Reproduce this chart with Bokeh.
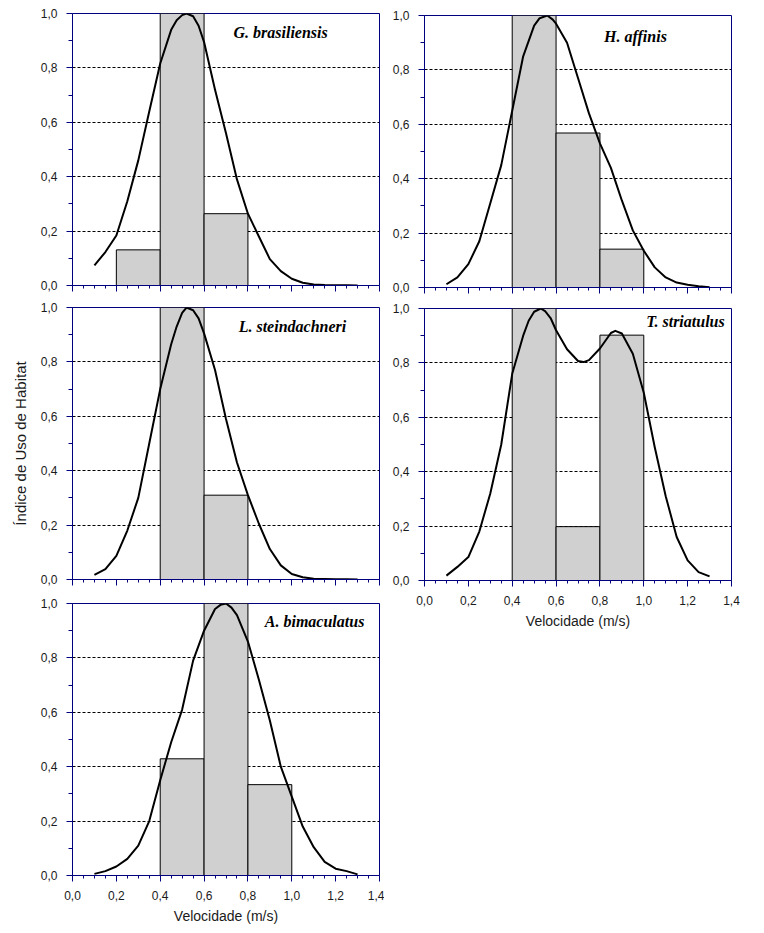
from bokeh.plotting import figure
from bokeh.layouts import row, column
from bokeh.models import FixedTicker, Label, ColumnDataSource, CustomJSTickFormatter
from bokeh.embed import file_html
from bokeh.resources import INLINE

# ---------------- data ----------------
BIN_WIDTH = 0.2

x_ticks = [0.0, 0.2, 0.4, 0.6, 0.8, 1.0, 1.2, 1.4]
x_tick_labels = ["0,0", "0,2", "0,4", "0,6", "0,8", "1,0", "1,2", "1,4"]
x_minor_ticks = [0.05, 0.1, 0.15, 0.25, 0.3, 0.35, 0.45, 0.5, 0.55, 0.65, 0.7, 0.75,
                 0.85, 0.9, 0.95, 1.05, 1.1, 1.15, 1.25, 1.3, 1.35]
y_ticks = [0.0, 0.2, 0.4, 0.6, 0.8, 1.0]
y_tick_labels = ["0,0", "0,2", "0,4", "0,6", "0,8", "1,0"]
y_minor_ticks = [0.1, 0.3, 0.5, 0.7, 0.9]
grid_levels = [0.2, 0.4, 0.6, 0.8]

species = ["G. brasiliensis", "H. affinis", "L. steindachneri", "T. striatulus", "A. bimaculatus"]

# histogram bars (bin start, index value)
g_bins = [0.2, 0.4, 0.6]
g_vals = [0.131, 1.0, 0.264]
h_bins = [0.4, 0.6, 0.8]
h_vals = [1.0, 0.568, 0.141]
l_bins = [0.4, 0.6]
l_vals = [1.0, 0.31]
t_bins = [0.4, 0.6, 0.8]
t_vals = [1.0, 0.198, 0.902]
a_bins = [0.4, 0.6, 0.8]
a_vals = [0.429, 1.0, 0.334]

# smoothed curves
g_cx = [0.10, 0.15, 0.20, 0.25, 0.30, 0.35, 0.40, 0.45, 0.475, 0.50, 0.52, 0.55, 0.575, 0.60, 0.65,
        0.70, 0.75, 0.80, 0.85, 0.90, 0.95, 1.00, 1.05, 1.10, 1.15, 1.20, 1.25, 1.30]
g_cy = [0.074, 0.123, 0.184, 0.31, 0.46, 0.64, 0.816, 0.94, 0.975, 0.994, 1.0, 0.99, 0.955, 0.895, 0.72,
        0.56, 0.39, 0.264, 0.18, 0.097, 0.053, 0.025, 0.01, 0.004, 0.002, 0.001, 0.0005, 0.0]

h_cx = [0.10, 0.15, 0.20, 0.25, 0.30, 0.35, 0.40, 0.45, 0.50, 0.525, 0.56, 0.585, 0.60, 0.65, 0.70,
        0.75, 0.80, 0.85, 0.90, 0.95, 1.00, 1.05, 1.10, 1.15, 1.20, 1.25, 1.30]
h_cy = [0.012, 0.037, 0.086, 0.17, 0.31, 0.45, 0.65, 0.85, 0.963, 0.99, 1.0, 0.985, 0.97, 0.90, 0.77,
        0.64, 0.53, 0.44, 0.32, 0.21, 0.135, 0.074, 0.037, 0.018, 0.010, 0.005, 0.001]

l_cx = [0.10, 0.15, 0.20, 0.25, 0.30, 0.35, 0.40, 0.45, 0.475, 0.50, 0.52, 0.55, 0.575, 0.60, 0.65,
        0.70, 0.75, 0.80, 0.85, 0.90, 0.95, 1.00, 1.05, 1.10, 1.15, 1.20, 1.25, 1.30]
l_cy = [0.017, 0.038, 0.087, 0.18, 0.30, 0.50, 0.70, 0.865, 0.93, 0.98, 1.0, 0.99, 0.96, 0.905, 0.77,
        0.59, 0.43, 0.31, 0.205, 0.112, 0.052, 0.02, 0.008, 0.003, 0.002, 0.001, 0.0005, 0.0]

t_cx = [0.10, 0.15, 0.20, 0.25, 0.30, 0.35, 0.40, 0.45, 0.475, 0.50, 0.53, 0.55, 0.575, 0.60, 0.65,
        0.70, 0.725, 0.75, 0.80, 0.85, 0.87, 0.90, 0.95, 1.00, 1.05, 1.10, 1.15, 1.20, 1.25, 1.30]
t_cy = [0.018, 0.05, 0.086, 0.18, 0.32, 0.50, 0.76, 0.90, 0.955, 0.988, 1.0, 0.99, 0.965, 0.92, 0.85,
        0.807, 0.803, 0.81, 0.853, 0.91, 0.918, 0.908, 0.834, 0.69, 0.49, 0.31, 0.16, 0.074, 0.031, 0.015]

a_cx = [0.10, 0.15, 0.20, 0.25, 0.30, 0.35, 0.40, 0.45, 0.50, 0.55, 0.60, 0.65, 0.675, 0.70,
        0.725, 0.75, 0.80, 0.85, 0.90, 0.95, 1.00, 1.05, 1.10, 1.15, 1.20, 1.25, 1.30]
a_cy = [0.006, 0.016, 0.033, 0.061, 0.11, 0.20, 0.35, 0.49, 0.61, 0.79, 0.90, 0.98, 0.995, 1.0,
        0.985, 0.957, 0.86, 0.72, 0.57, 0.40, 0.29, 0.18, 0.104, 0.05, 0.025, 0.016, 0.004]

x_axis_title = "Velocidade (m/s)"
y_axis_title = "Índice de Uso de Habitat"

# ---------------- style ----------------
NAVY = "#00007f"
BAR_FILL = "#d0d0d0"
TICK_FONT = "Liberation Sans"
FRAME_W, FRAME_H = 307, 272


def make_panel(title, bins, vals, cx, cy, title_xy, borders, xlabels=False, ylabel=False):
    top_b, right_b, bottom_b, left_b = borders
    p = figure(frame_width=FRAME_W, frame_height=FRAME_H,
               x_range=(0, 1.4), y_range=(0, 1.0),
               output_backend="svg", toolbar_location=None,
               min_border_top=top_b, min_border_right=right_b,
               min_border_bottom=bottom_b, min_border_left=left_b,
               background_fill_color="white", border_fill_color="white")
    p.outline_line_color = NAVY
    p.outline_line_width = 1
    p.outline_line_alpha = 1.0

    p.xgrid.visible = False
    p.ygrid.ticker = FixedTicker(ticks=grid_levels)
    p.ygrid.grid_line_color = "black"
    p.ygrid.grid_line_dash = "3 2"
    p.ygrid.grid_line_width = 1

    src = ColumnDataSource(dict(left=bins, right=[b + BIN_WIDTH for b in bins],
                                top=vals, bottom=[0.0] * len(vals)))
    p.quad(left="left", right="right", top="top", bottom="bottom", source=src,
           fill_color=BAR_FILL, line_color="black", line_width=1)
    p.line(cx, cy, line_color="black", line_width=2, line_join="round")

    xa = p.xaxis[0]
    xa.ticker = FixedTicker(ticks=x_ticks, minor_ticks=x_minor_ticks)
    xa.axis_line_color = NAVY
    xa.major_tick_line_color = NAVY
    xa.minor_tick_line_color = NAVY
    xa.major_tick_out = 6
    xa.major_tick_in = 0
    xa.minor_tick_out = 3
    xa.minor_tick_in = 0
    if xlabels:
        xa.major_label_overrides = dict(zip(x_ticks, x_tick_labels))
        xa.major_label_text_font = TICK_FONT
        xa.major_label_text_font_size = "12px"
        xa.major_label_text_color = "#1a1a1a"
        xa.major_label_standoff = 9
        xa.axis_label = x_axis_title
        xa.axis_label_text_font = TICK_FONT
        xa.axis_label_text_font_size = "14px"
        xa.axis_label_text_font_style = "normal"
        xa.axis_label_text_color = "#1a1a1a"
        xa.axis_label_standoff = 5
    else:
        xa.formatter = CustomJSTickFormatter(code="return ''")
        xa.major_label_standoff = 0

    ya = p.yaxis[0]
    ya.ticker = FixedTicker(ticks=y_ticks, minor_ticks=y_minor_ticks)
    ya.major_label_overrides = dict(zip(y_ticks, y_tick_labels))
    ya.axis_line_color = NAVY
    ya.major_tick_line_color = NAVY
    ya.minor_tick_line_color = NAVY
    ya.major_tick_out = 6
    ya.major_tick_in = 0
    ya.minor_tick_out = 4
    ya.minor_tick_in = 0
    ya.major_label_text_font = TICK_FONT
    ya.major_label_text_font_size = "12px"
    ya.major_label_text_color = "#1a1a1a"
    ya.major_label_standoff = 9
    if ylabel:
        ya.axis_label = y_axis_title
        ya.axis_label_text_font = TICK_FONT
        ya.axis_label_text_font_size = "15px"
        ya.axis_label_text_font_style = "normal"
        ya.axis_label_text_color = "#1a1a1a"
        ya.axis_label_standoff = 9

    p.add_layout(Label(x=title_xy[0], y=title_xy[1], text=title,
                       text_font="Liberation Serif", text_font_style="bold italic",
                       text_font_size="16px", text_color="black",
                       text_align="center", text_baseline="middle"))
    return p


p1 = make_panel(species[0], g_bins, g_vals, g_cx, g_cy, (0.949, 0.930), (13, 5, 11, 72))
p3 = make_panel(species[2], l_bins, l_vals, l_cx, l_cy, (1.003, 0.930), (11, 5, 12, 72), ylabel=True)
p5 = make_panel(species[4], a_bins, a_vals, a_cx, a_cy, (1.104, 0.934), (12, 5, 50, 72), xlabels=True)
p2 = make_panel(species[1], h_bins, h_vals, h_cx, h_cy, (0.962, 0.923), (15, 10, 10, 40))
p4 = make_panel(species[3], t_bins, t_vals, t_cx, t_cy, (1.190, 0.952), (11, 10, 50, 40), xlabels=True)

layout = row(column(p1, p3, p5), column(p2, p4))

open("out.html", "w").write(file_html(layout, INLINE))
